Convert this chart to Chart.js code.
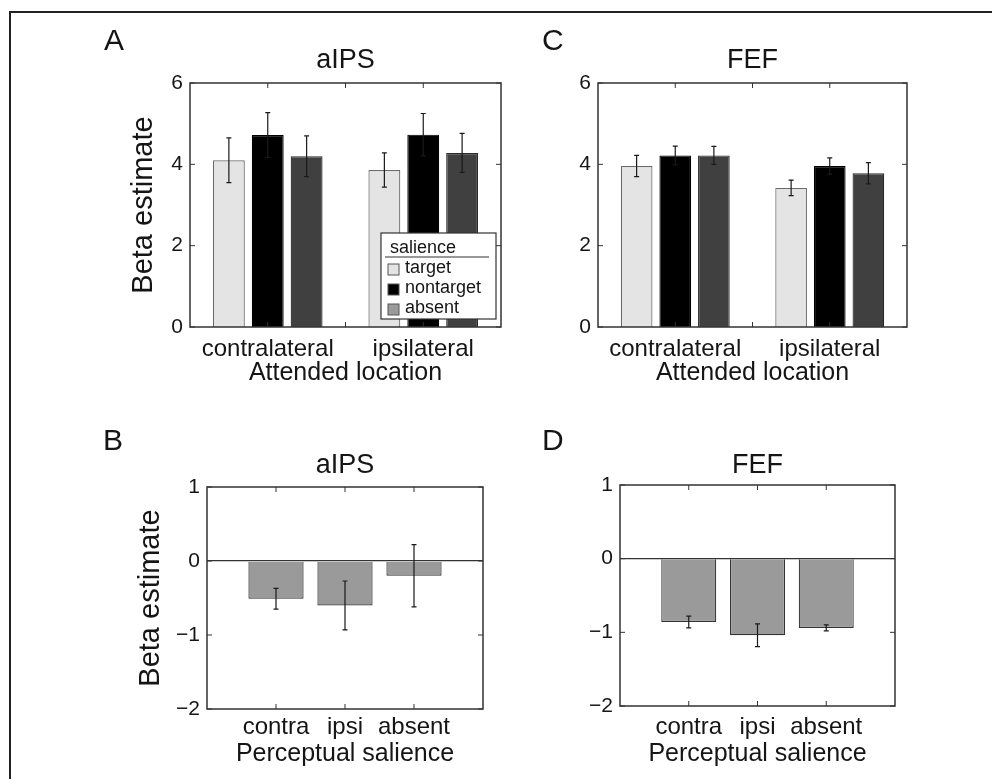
<!DOCTYPE html>
<html>
<head>
<meta charset="utf-8">
<script src="https://cdn.jsdelivr.net/npm/chart.js@4.4.0/dist/chart.umd.min.js"></script>
<style>
  body { margin: 0; background: #fff; width: 992px; height: 779px; overflow: hidden; position: relative;
         font-family: "Liberation Sans", Arial, sans-serif; color: #151515; }
  .frame { position: absolute; left: 9px; top: 11px; width: 1000px; height: 800px;
           border-top: 2px solid #222; border-left: 2px solid #222; }
  .panel { position: absolute; }
  .letter { position: absolute; font-size: 30px; line-height: 30px; }
</style>
</head>
<body>
<div class="frame"></div>

<div class="panel" style="left:100px;top:44px;width:410px;height:356px"><canvas id="chartA"></canvas></div>
<div class="panel" style="left:548px;top:44px;width:368px;height:356px"><canvas id="chartC"></canvas></div>
<div class="panel" style="left:117px;top:449px;width:375px;height:330px"><canvas id="chartB"></canvas></div>
<div class="panel" style="left:570px;top:449px;width:334px;height:330px"><canvas id="chartD"></canvas></div>

<div class="letter" style="left:104px;top:25px">A</div>
<div class="letter" style="left:542px;top:25px">C</div>
<div class="letter" style="left:103px;top:425px">B</div>
<div class="letter" style="left:542px;top:425px">D</div>

<script>
const FONT = '"Liberation Sans", Arial, sans-serif';
const INK = '#151515';

// categories
const locations = ['contralateral', 'ipsilateral'];
const salience = ['target', 'nontarget', 'absent'];
const salienceShort = ['contra', 'ipsi', 'absent'];

// tick values
const groupTicks = [0, 2, 4, 6];
const diffTicks = [-2, -1, 0, 1];

// aIPS, by attended location (contra, ipsi)
const aipsTarget = [4.10, 3.86];
const aipsTargetErr = [0.55, 0.42];
const aipsNontarget = [4.72, 4.73];
const aipsNontargetErr = [0.55, 0.52];
const aipsAbsent = [4.20, 4.28];
const aipsAbsentErr = [0.50, 0.48];

// FEF, by attended location (contra, ipsi)
const fefTarget = [3.96, 3.42];
const fefTargetErr = [0.26, 0.19];
const fefNontarget = [4.22, 3.96];
const fefNontargetErr = [0.23, 0.20];
const fefAbsent = [4.22, 3.78];
const fefAbsentErr = [0.22, 0.26];

// contralateral minus ipsilateral, by perceptual salience
const aipsDiff = [-0.51, -0.60, -0.20];
const aipsDiffErr = [0.14, 0.33, 0.42];
const fefDiff = [-0.86, -1.04, -0.94];
const fefDiffErr = [0.08, 0.155, 0.04];

const barFill = ['#e4e4e4', '#000000', '#404040'];
const barEdge = ['#6a6a6a', '#000000', '#2a2a2a'];
const legendSwatch = ['#e4e4e4', '#000000', '#9a9a9a'];

// error bars from each dataset's err array
const errorBars = {
  id: 'errorBars',
  afterDatasetsDraw(chart) {
    const ctx = chart.ctx, y = chart.scales.y;
    chart.data.datasets.forEach((ds, i) => {
      if (!ds.err) return;
      chart.getDatasetMeta(i).data.forEach((bar, j) => {
        const v = ds.data[j];
        if (v == null) return;
        const top = y.getPixelForValue(v + ds.err[j]);
        const bot = y.getPixelForValue(v - ds.err[j]);
        ctx.save();
        ctx.strokeStyle = '#1a1a1a';
        ctx.lineWidth = 1.2;
        ctx.beginPath();
        ctx.moveTo(bar.x, top); ctx.lineTo(bar.x, bot);
        ctx.moveTo(bar.x - 2.5, top); ctx.lineTo(bar.x + 2.5, top);
        ctx.moveTo(bar.x - 2.5, bot); ctx.lineTo(bar.x + 2.5, bot);
        ctx.stroke();
        ctx.restore();
      });
    });
  }
};

// matlab style box with inward ticks
const axesBox = {
  id: 'axesBox',
  afterDatasetsDraw(chart, args, opts) {
    const { ctx, chartArea: a, scales: { x, y } } = chart;
    ctx.save();
    ctx.strokeStyle = '#333';
    ctx.lineWidth = 1.5;
    ctx.strokeRect(a.left, a.top, a.width, a.height);
    ctx.lineWidth = 1;
    ctx.beginPath();
    y.ticks.forEach(t => {
      const py = y.getPixelForValue(t.value);
      ctx.moveTo(a.left, py); ctx.lineTo(a.left + 5, py);
      ctx.moveTo(a.right, py); ctx.lineTo(a.right - 5, py);
    });
    const xs = [];
    chart.data.labels.forEach((l, i) => { if (l) xs.push(x.getPixelForTick(i)); });
    const all = xs.slice();
    if (opts.midTicks) for (let i = 1; i < xs.length; i++) all.push((xs[i - 1] + xs[i]) / 2);
    all.forEach(px => {
      ctx.moveTo(px, a.top); ctx.lineTo(px, a.top + 5);
      ctx.moveTo(px, a.bottom); ctx.lineTo(px, a.bottom - 5);
    });
    ctx.stroke();
    ctx.restore();
  }
};

// legend box inside the plot of panel A
const insetLegend = {
  id: 'insetLegend',
  afterDraw(chart, args, opts) {
    if (!opts.show) return;
    const { ctx, chartArea: a } = chart;
    const w = 115, h = 86;
    const bx = a.right - 5 - w, by = a.bottom - 8 - h;
    ctx.save();
    ctx.fillStyle = '#fff';
    ctx.fillRect(bx, by, w, h);
    ctx.strokeStyle = '#333';
    ctx.lineWidth = 1.2;
    ctx.strokeRect(bx, by, w, h);
    ctx.font = '18px ' + FONT;
    ctx.textBaseline = 'alphabetic';
    ctx.fillStyle = INK;
    ctx.fillText(opts.title, bx + 9, by + 20);
    ctx.beginPath();
    ctx.moveTo(bx + 4, by + 24); ctx.lineTo(bx + 108, by + 24);
    ctx.stroke();
    chart.data.datasets.forEach((ds, i) => {
      const sy = by + 31 + i * 20;
      ctx.fillStyle = legendSwatch[i];
      ctx.fillRect(bx + 7, sy, 11, 11);
      ctx.strokeStyle = '#555';
      ctx.lineWidth = 1;
      ctx.strokeRect(bx + 7, sy, 11, 11);
      ctx.fillStyle = INK;
      ctx.fillText(ds.label, bx + 24, by + 40 + i * 20);
    });
    ctx.restore();
  }
};

function tickText(v) {
  return v < 0 ? '\u2212' + Math.abs(v) : String(v);
}

function yScale(p, ticks) {
  return {
    min: ticks[0],
    max: ticks[ticks.length - 1],
    afterBuildTicks: s => { s.ticks = ticks.map(v => ({ value: v })); },
    afterFit: s => { s.width = p.yWidth; },
    border: { display: false },
    grid: {
      display: p.zeroLine,
      drawTicks: false,
      lineWidth: 1.3,
      color: c => (c.tick && c.tick.value === 0 ? '#333' : 'rgba(0,0,0,0)')
    },
    ticks: { color: INK, padding: 7, font: { family: FONT, size: 21 }, callback: tickText },
    title: {
      display: !!p.yTitle, text: p.yTitle || '', color: INK,
      font: { family: FONT, size: 29 }, padding: { top: p.yTitlePad || 0, bottom: 0 }
    }
  };
}

function makeChart(id, p) {
  new Chart(document.getElementById(id), {
    type: 'bar',
    data: { labels: p.labels, datasets: p.datasets },
    plugins: [errorBars, axesBox, insetLegend],
    options: {
      responsive: true,
      maintainAspectRatio: false,
      animation: false,
      layout: { padding: { right: 9 } },
      plugins: {
        legend: { display: false },
        tooltip: { enabled: false },
        title: {
          display: true, text: p.title, fullSize: false, color: INK,
          font: { family: FONT, size: 27, weight: 'normal' },
          padding: { top: 0, bottom: p.titlePad }
        },
        axesBox: { midTicks: p.midTicks },
        insetLegend: { show: !!p.legend, title: 'salience' }
      },
      scales: {
        x: {
          offset: p.offset,
          afterFit: s => { s.height = p.xHeight; },
          border: { display: false },
          grid: { display: false, drawTicks: false },
          ticks: { color: INK, padding: p.tickPad, maxRotation: 0, autoSkip: false, font: { family: FONT, size: 24 } },
          title: {
            display: true, text: p.xTitle, color: INK,
            font: { family: FONT, size: 25 }, padding: { top: 0, bottom: p.xTitlePad }
          }
        },
        y: yScale(p, p.yTicks)
      }
    }
  });
}

function groupedSets(series) {
  return series.map((s, i) => ({
    label: salience[i],
    data: s[0],
    err: s[1],
    backgroundColor: barFill[i],
    borderColor: barEdge[i],
    borderWidth: 1.2,
    categoryPercentage: 0.75,
    barPercentage: 0.82
  }));
}

function diffSet(values, err) {
  return [{
    label: 'difference',
    data: [null, ...values, null],
    err: [null, ...err, null],
    backgroundColor: '#9a9a9a',
    borderColor: '#333',
    borderWidth: 1.2,
    categoryPercentage: 1,
    barPercentage: 0.8
  }];
}

makeChart('chartA', {
  labels: locations, offset: true, midTicks: true, legend: true,
  datasets: groupedSets([[aipsTarget, aipsTargetErr], [aipsNontarget, aipsNontargetErr], [aipsAbsent, aipsAbsentErr]]),
  title: 'aIPS', titlePad: 6.6, yTicks: groupTicks, yWidth: 90, yTitle: 'Beta estimate', yTitlePad: 27,
  xTitle: 'Attended location', xHeight: 73, tickPad: 8, xTitlePad: 12, zeroLine: false
});

makeChart('chartC', {
  labels: locations, offset: true, midTicks: true,
  datasets: groupedSets([[fefTarget, fefTargetErr], [fefNontarget, fefNontargetErr], [fefAbsent, fefAbsentErr]]),
  title: 'FEF', titlePad: 6.6, yTicks: groupTicks, yWidth: 50,
  xTitle: 'Attended location', xHeight: 73, tickPad: 8, xTitlePad: 12, zeroLine: false
});

makeChart('chartB', {
  labels: ['', ...salienceShort, ''], offset: false, midTicks: false,
  datasets: diffSet(aipsDiff, aipsDiffErr),
  title: 'aIPS', titlePad: 5.6, yTicks: diffTicks, yWidth: 90, yTitle: 'Beta estimate', yTitlePad: 16.6,
  xTitle: 'Perceptual salience', xHeight: 70, tickPad: 4, xTitlePad: 10, zeroLine: true
});

makeChart('chartD', {
  labels: ['', ...salienceShort, ''], offset: false, midTicks: false,
  datasets: diffSet(fefDiff, fefDiffErr),
  title: 'FEF', titlePad: 3.6, yTicks: diffTicks, yWidth: 50,
  xTitle: 'Perceptual salience', xHeight: 73, tickPad: 6.6, xTitlePad: 10, zeroLine: true
});
</script>
</body>
</html>
